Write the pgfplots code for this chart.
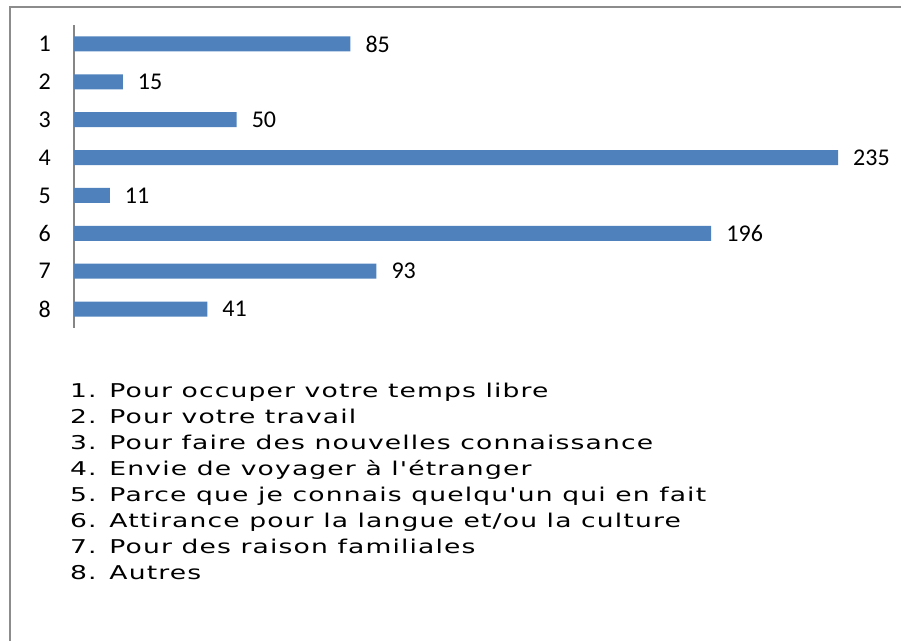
\documentclass[border=0pt]{standalone}
\usepackage{fontspec}
\setmainfont{Carlito}
\newfontfamily\legfont[FakeStretch=1.4,LetterSpace=6]{DejaVu Sans}
\usepackage{pgfplots}
\pgfplotsset{compat=1.18}
\definecolor{barblue}{HTML}{4F81BD}
\definecolor{framegray}{HTML}{8C8C8C}
\definecolor{axisgray}{HTML}{868686}
\begin{document}
\begin{tikzpicture}[x=1pt,y=1pt]
\path[use as bounding box] (0,0) rectangle (901,641);
\draw[framegray, line width=1.4pt] (10,0) -- (10,634) -- (901,634);
\begin{axis}[
  at={(74pt,313pt)}, anchor=south west,
  scale only axis, width=764pt, height=303pt,
  xbar, bar width=15pt, bar shift=0pt,
  xmin=0, xmax=235, ymin=0.5, ymax=8.5, y dir=reverse,
  axis x line=none, axis y line*=left,
  axis line style={axisgray, line width=1.4pt, -},
  ytick={1,...,8}, major tick length=0pt,
  /pgf/number format/assume math mode=true,
  yticklabel style={font=\fontsize{24}{28}\selectfont, inner sep=0pt, anchor=east, xshift=-23pt},
  nodes near coords,
  nodes near coords style={font=\fontsize{24}{28}\selectfont, anchor=west, inner sep=0pt, xshift=15pt, black},
  clip=false,
]
\addplot[fill=barblue, draw=none] coordinates {
  (85,1) (15,2) (50,3) (235,4) (11,5) (196,6) (93,7) (41,8)
};
\end{axis}
\begin{scope}[every node/.style={anchor=base west, inner sep=0pt, font=\legfont\fontsize{19}{21}\selectfont}]
\node at (70,{641-397}) {1. Pour occuper votre temps libre};
\node at (70,{641-423.1}) {2. Pour votre travail};
\node at (70,{641-449.2}) {3. Pour faire des nouvelles connaissance};
\node at (70,{641-475.3}) {4. Envie de voyager à l'étranger};
\node at (70,{641-501.4}) {5. Parce que je connais quelqu'un qui en fait};
\node at (70,{641-527.5}) {6. Attirance pour la langue et/ou la culture};
\node at (70,{641-553.6}) {7. Pour des raison familiales};
\node at (70,{641-579.7}) {8. Autres};
\end{scope}
\end{tikzpicture}
\end{document}
